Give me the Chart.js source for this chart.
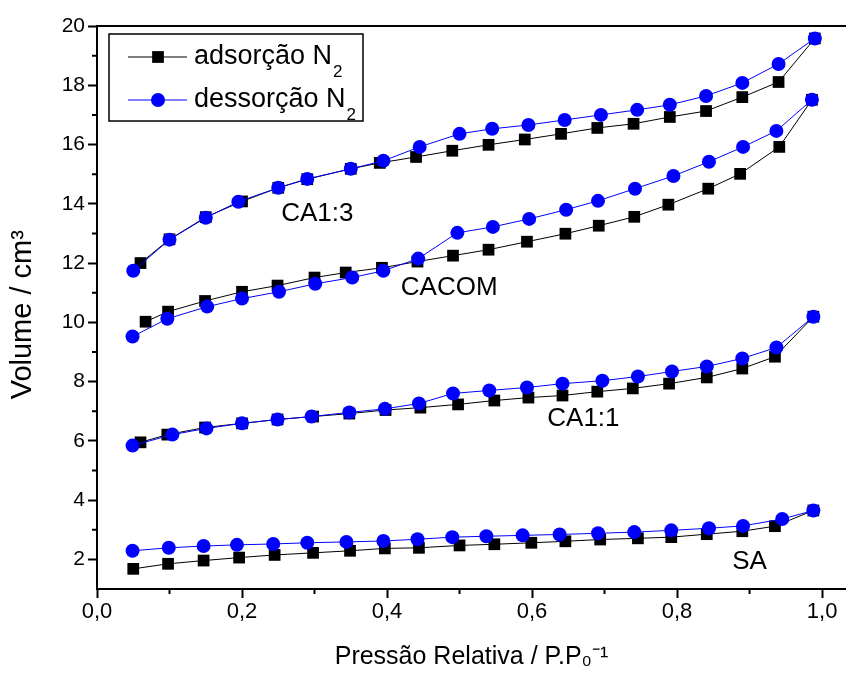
<!DOCTYPE html>
<html><head><meta charset="utf-8">
<script src="https://cdn.jsdelivr.net/npm/chart.js@4/dist/chart.umd.min.js"></script>
<style>html,body{margin:0;padding:0;background:#fff;overflow:hidden}#wrap{width:846px;height:679px;position:relative}</style>
</head><body><div id="wrap"><canvas id="c" width="846" height="679"></canvas></div>
<script>
// ---- data ----
const xTicks = [0, 0.2, 0.4, 0.6, 0.8, 1.0];
const xMinorTicks = [0.1, 0.3, 0.5, 0.7, 0.9];
const yTicks = [2, 4, 6, 8, 10, 12, 14, 16, 18, 20];
const yMinorTicks = [3, 5, 7, 9, 11, 13, 15, 17, 19];

const seriesNames = ['adsorção N', 'dessorção N'];
const sampleNames = ['CA1:3', 'CACOM', 'CA1:1', 'SA'];

const ca13AdsX = [0.06, 0.10, 0.15, 0.20, 0.25, 0.29, 0.35, 0.39, 0.44, 0.49, 0.54, 0.59, 0.64, 0.69, 0.74, 0.79, 0.84, 0.89, 0.94, 0.99];
const ca13AdsY = [12.0, 12.8, 13.55, 14.08, 14.54, 14.83, 15.18, 15.38, 15.58, 15.79, 15.99, 16.17, 16.36, 16.56, 16.70, 16.93, 17.13, 17.60, 18.11, 19.58];
const ca13DesX = [0.05, 0.10, 0.15, 0.195, 0.25, 0.29, 0.35, 0.395, 0.445, 0.50, 0.545, 0.595, 0.645, 0.695, 0.745, 0.79, 0.84, 0.89, 0.94, 0.99];
const ca13DesY = [11.74, 12.79, 13.53, 14.07, 14.54, 14.84, 15.18, 15.45, 15.92, 16.36, 16.53, 16.66, 16.83, 17.0, 17.17, 17.34, 17.64, 18.08, 18.72, 19.58];

const cacomAdsX = [0.067, 0.098, 0.149, 0.20, 0.249, 0.30, 0.343, 0.393, 0.442, 0.491, 0.54, 0.593, 0.646, 0.692, 0.741, 0.788, 0.843, 0.887, 0.941, 0.986];
const cacomAdsY = [10.02, 10.36, 10.72, 11.03, 11.24, 11.51, 11.68, 11.84, 12.05, 12.25, 12.45, 12.72, 12.99, 13.26, 13.56, 13.97, 14.51, 15.01, 15.92, 17.51];
const cacomDesX = [0.049, 0.097, 0.152, 0.20, 0.251, 0.301, 0.352, 0.395, 0.443, 0.497, 0.546, 0.596, 0.647, 0.691, 0.742, 0.795, 0.844, 0.891, 0.937, 0.986];
const cacomDesY = [9.52, 10.12, 10.53, 10.8, 11.03, 11.3, 11.51, 11.74, 12.15, 13.02, 13.22, 13.49, 13.8, 14.1, 14.51, 14.94, 15.42, 15.92, 16.46, 17.51];

const ca11AdsX = [0.06, 0.097, 0.149, 0.2, 0.249, 0.298, 0.348, 0.398, 0.446, 0.498, 0.548, 0.595, 0.642, 0.69, 0.739, 0.789, 0.841, 0.89, 0.935, 0.988];
const ca11AdsY = [5.95, 6.21, 6.45, 6.59, 6.72, 6.82, 6.92, 7.04, 7.12, 7.23, 7.36, 7.46, 7.53, 7.66, 7.77, 7.93, 8.14, 8.44, 8.84, 10.19];
const ca11DesX = [0.049, 0.104, 0.151, 0.2, 0.249, 0.296, 0.348, 0.397, 0.444, 0.491, 0.541, 0.593, 0.642, 0.697, 0.746, 0.793, 0.841, 0.89, 0.937, 0.988];
const ca11DesY = [5.84, 6.21, 6.42, 6.59, 6.72, 6.82, 6.96, 7.08, 7.26, 7.6, 7.7, 7.8, 7.93, 8.03, 8.17, 8.34, 8.51, 8.78, 9.15, 10.19];

const saAdsX = [0.05, 0.098, 0.147, 0.196, 0.245, 0.298, 0.349, 0.397, 0.444, 0.5, 0.548, 0.599, 0.646, 0.694, 0.746, 0.792, 0.841, 0.89, 0.935, 0.988];
const saAdsY = [1.68, 1.85, 1.96, 2.06, 2.15, 2.22, 2.29, 2.37, 2.39, 2.47, 2.51, 2.56, 2.61, 2.67, 2.71, 2.75, 2.85, 2.95, 3.12, 3.65];
const saDesX = [0.049, 0.099, 0.147, 0.193, 0.243, 0.29, 0.344, 0.395, 0.442, 0.49, 0.537, 0.587, 0.638, 0.691, 0.741, 0.792, 0.844, 0.891, 0.945, 0.988];
const saDesY = [2.29, 2.39, 2.45, 2.49, 2.52, 2.56, 2.59, 2.62, 2.68, 2.75, 2.78, 2.81, 2.84, 2.88, 2.92, 2.98, 3.05, 3.13, 3.36, 3.65];

// label anchors (data units)
const sampleLabelX = [0.254, 0.419, 0.621, 0.876];
const sampleLabelY = [13.66, 11.17, 6.75, 1.93];

// ---- build ----
const FONT = "'Liberation Sans', Arial, sans-serif";
const BLACK = '#000000', BLUE = '#0000ff';
const pairs = [
  [ca13AdsX, ca13AdsY, ca13DesX, ca13DesY],
  [cacomAdsX, cacomAdsY, cacomDesX, cacomDesY],
  [ca11AdsX, ca11AdsY, ca11DesX, ca11DesY],
  [saAdsX, saAdsY, saDesX, saDesY]
];
const toPts = (xs, ys) => xs.map((v, i) => ({x: v, y: ys[i]}));
const datasets = [];
pairs.forEach((p, i) => {
  datasets.push({label: seriesNames[0] + '₂ ' + sampleNames[i], data: toPts(p[0], p[1]), showLine: true,
    borderColor: BLACK, backgroundColor: BLACK, borderWidth: 1, pointStyle: 'rect', pointRadius: 8.3, pointBorderWidth: 0, order: 1});
  datasets.push({label: seriesNames[1] + '₂ ' + sampleNames[i], data: toPts(p[2], p[3]), showLine: true,
    borderColor: BLUE, backgroundColor: BLUE, borderWidth: 1, pointStyle: 'circle', pointRadius: 7, pointBorderWidth: 0, order: 0});
});

function drawMarker(ctx, style, x, y, color) {
  ctx.fillStyle = color;
  if (style === 'rect') { const s = 8.3 * Math.SQRT1_2; ctx.fillRect(x - s, y - s, 2 * s, 2 * s); }
  else { ctx.beginPath(); ctx.arc(x, y, 7, 0, Math.PI * 2); ctx.fill(); }
}

const decor = {
  id: 'decor',
  afterDraw(chart) {
    const {ctx, chartArea: a, scales: {x, y}} = chart;
    ctx.save();
    // top frame
    ctx.strokeStyle = BLACK; ctx.lineWidth = 2;
    ctx.beginPath(); ctx.moveTo(a.left, a.top); ctx.lineTo(a.right, a.top); ctx.stroke();
    // minor ticks
    ctx.beginPath();
    xMinorTicks.forEach(v => { const px = x.getPixelForValue(v); ctx.moveTo(px, a.bottom); ctx.lineTo(px, a.bottom + 5); });
    yMinorTicks.forEach(v => { const py = y.getPixelForValue(v); ctx.moveTo(a.left, py); ctx.lineTo(a.left - 5, py); });
    ctx.stroke();
    // sample labels
    ctx.fillStyle = BLACK; ctx.font = '26px ' + FONT; ctx.textBaseline = 'middle'; ctx.textAlign = 'left';
    sampleNames.forEach((n, i) => ctx.fillText(n, x.getPixelForValue(sampleLabelX[i]), y.getPixelForValue(sampleLabelY[i])));
    // legend
    const bx = a.left + 12, by = a.top + 8, bw = 254, bh = 87;
    ctx.lineWidth = 1.5; ctx.strokeStyle = BLACK;
    ctx.strokeRect(bx, by, bw, bh);
    const rows = [{c: BLACK, s: 'rect', t: seriesNames[0]}, {c: BLUE, s: 'circle', t: seriesNames[1]}];
    rows.forEach((r, i) => {
      const ry = by + 23 + i * 43;
      ctx.strokeStyle = r.c; ctx.lineWidth = 1;
      ctx.beginPath(); ctx.moveTo(bx + 19, ry); ctx.lineTo(bx + 78, ry); ctx.stroke();
      drawMarker(ctx, r.s, bx + 49, ry, r.c);
      ctx.fillStyle = BLACK; ctx.font = '27px ' + FONT; ctx.textBaseline = 'middle';
      ctx.fillText(r.t, bx + 85, ry);
      const w = ctx.measureText(r.t).width;
      ctx.font = '17px ' + FONT;
      ctx.fillText('2', bx + 85 + w + 1, ry + 15);
    });
    ctx.restore();
  }
};

new Chart(document.getElementById('c'), {
  type: 'scatter',
  data: {datasets},
  options: {
    responsive: false, animation: false, events: [],
    layout: {autoPadding: false, padding: {top: 26, right: 0, bottom: 0, left: 0}},
    elements: {line: {tension: 0}},
    plugins: {legend: {display: false}, tooltip: {enabled: false}},
    scales: {
      x: {
        type: 'linear', min: 0, max: 1.033,
        afterBuildTicks: s => { s.ticks = xTicks.map(v => ({value: v})); },
        afterFit: s => { s.height = 90; s.paddingRight = 0; s.paddingLeft = 0; },
        border: {display: true, color: BLACK, width: 2},
        grid: {drawOnChartArea: false, drawTicks: true, tickLength: 9, tickWidth: 2, tickColor: BLACK},
        ticks: {color: BLACK, padding: 1, maxRotation: 0, autoSkip: false, font: {family: FONT, size: 22},
          callback: v => v.toFixed(1).replace('.', ',')},
        title: {display: true, text: 'Pressão Relativa / P.P₀⁻¹', color: BLACK, font: {family: FONT, size: 25}, padding: {top: 0, bottom: 7}}
      },
      y: {
        type: 'linear', min: 1, max: 20,
        afterBuildTicks: s => { s.ticks = yTicks.map(v => ({value: v})); },
        afterFit: s => { s.width = 97; },
        border: {display: true, color: BLACK, width: 2},
        grid: {drawOnChartArea: false, drawTicks: true, tickLength: 9, tickWidth: 2, tickColor: BLACK},
        ticks: {color: BLACK, padding: 3, autoSkip: false, font: {family: FONT, size: 21}},
        title: {display: true, text: 'Volume / cm³\u2002', color: BLACK, font: {family: FONT, size: 29}, padding: {top: 6, bottom: 0}}
      }
    }
  },
  plugins: [decor]
});
</script>
</body></html>
